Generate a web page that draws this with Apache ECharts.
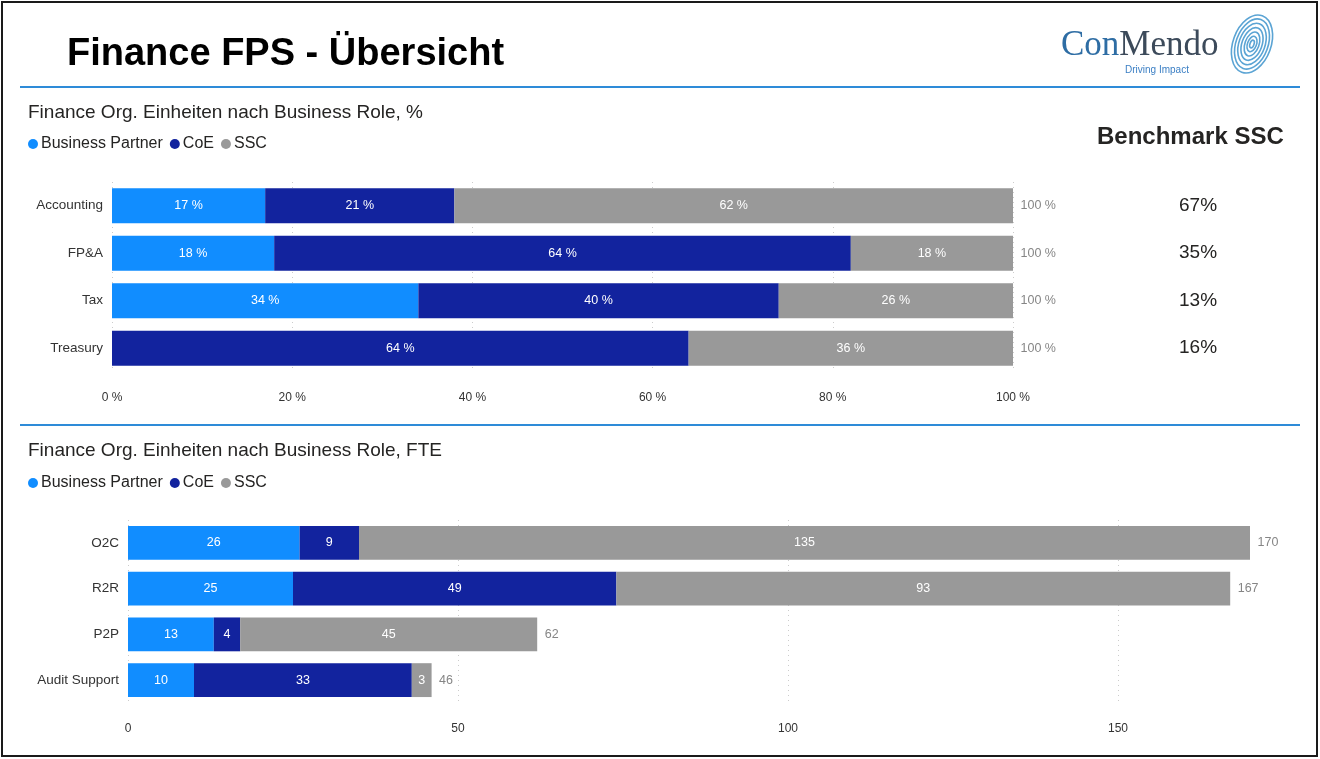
<!DOCTYPE html>
<html>
<head>
<meta charset="utf-8">
<script src="https://cdn.jsdelivr.net/npm/echarts@6/dist/echarts.min.js"></script>
<style>
html,body{margin:0;padding:0;background:#fff;}
#c{width:1320px;height:759px;}
</style>
</head>
<body>
<div id="c"></div>
<script>
// ---- data ----
const topCats = ['Accounting', 'FP&A', 'Tax', 'Treasury'];
const topBP = [17, 18, 34, 0];
const topCoE = [21, 64, 40, 64];
const topSSC = [62, 18, 26, 36];
const topTotal = [100, 100, 100, 100];
const benchmarkSSC = ['67%', '35%', '13%', '16%'];

const botCats = ['O2C', 'R2R', 'P2P', 'Audit Support'];
const botBP = [26, 25, 13, 10];
const botCoE = [9, 49, 4, 33];
const botSSC = [135, 93, 45, 3];
const botTotal = [170, 167, 62, 46];

const seriesNames = ['Business Partner', 'CoE', 'SSC'];
const colors = ['#118DFF', '#12239E', '#999999'];

const FONT = 'Liberation Sans, Arial, sans-serif';

function barSeries(name, data, color, xi, yi, stack, pct) {
  return {
    type: 'bar', name: name, stack: stack, data: data,
    xAxisIndex: xi, yAxisIndex: yi,
    barCategoryGap: '26%',
    itemStyle: { color: color },
    label: {
      show: true, position: 'inside', color: '#fff', fontSize: 12.5, fontFamily: FONT,
      formatter: p => (p.value ? (pct ? p.value + ' %' : String(p.value)) : '')
    },
    emphasis: { disabled: true }
  };
}
function totalSeries(cats, totals, xi, yi, pct) {
  return {
    type: 'scatter', name: 'total', xAxisIndex: xi, yAxisIndex: yi,
    data: totals.map((v, i) => [v, cats[i]]),
    symbolSize: 1, itemStyle: { color: 'rgba(0,0,0,0)' }, silent: true,
    label: {
      show: true, position: 'right', distance: 7, color: '#666', fontSize: 12.5, fontFamily: FONT,
      formatter: p => (pct ? p.value[0] + ' %' : String(p.value[0]))
    }
  };
}

const splitLine = { show: true, lineStyle: { type: [1, 4], color: '#cccccc', width: 1 } };

const chart = echarts.init(document.getElementById('c'), null, { renderer: 'canvas' });
chart.setOption({
  backgroundColor: '#fff',
  animation: false,
  textStyle: { fontFamily: FONT },
  title: [
    { text: 'Finance FPS - Übersicht', left: 67, top: 36, padding: 0,
      textStyle: { fontSize: 38, fontWeight: 'bold', color: '#000', fontFamily: FONT } },
    { text: 'Finance Org. Einheiten nach Business Role, %', left: 28, top: 103, padding: 0,
      textStyle: { fontSize: 19, fontWeight: 'normal', color: '#252423', fontFamily: FONT } },
    { text: 'Finance Org. Einheiten nach Business Role, FTE', left: 28, top: 441, padding: 0,
      textStyle: { fontSize: 19, fontWeight: 'normal', color: '#252423', fontFamily: FONT } },
    { text: 'Benchmark SSC', left: 1097, top: 125, padding: 0,
      textStyle: { fontSize: 24, fontWeight: 'bold', color: '#252423', fontFamily: FONT } },
    { text: '{a|Con}{b|Mendo}', left: 1061, top: 28, padding: 0,
      textStyle: { rich: {
        a: { fontSize: 35, fontWeight: 'normal', color: '#2E6DA4', fontFamily: 'Liberation Serif, serif' },
        b: { fontSize: 35, fontWeight: 'normal', color: '#3C4A5A', fontFamily: 'Liberation Serif, serif' } } } },
    { text: 'Driving Impact', left: 1125, top: 65, padding: 0,
      textStyle: { fontSize: 10, fontWeight: 'normal', color: '#3B7FC4', fontFamily: FONT } }
  ],
  legend: [
    { data: seriesNames, left: 28, top: 136, icon: 'circle', itemWidth: 10, itemHeight: 10,
      itemGap: 7, padding: 0, selectedMode: false,
      textStyle: { fontSize: 16, color: '#252423', fontFamily: FONT, padding: [0, 0, 0, -2] } },
    { data: seriesNames, left: 28, top: 475, icon: 'circle', itemWidth: 10, itemHeight: 10,
      itemGap: 7, padding: 0, selectedMode: false,
      textStyle: { fontSize: 16, color: '#252423', fontFamily: FONT, padding: [0, 0, 0, -2] } }
  ],
  grid: [
    { left: 112, width: 901, top: 182, height: 190 },
    { left: 128, width: 1122, top: 520, height: 183 }
  ],
  xAxis: [
    { type: 'value', gridIndex: 0, min: 0, max: 100, interval: 20,
      axisLine: { show: false }, axisTick: { show: false }, splitLine: splitLine,
      axisLabel: { margin: 20, fontSize: 12, color: '#333', formatter: v => v + ' %' } },
    { type: 'value', gridIndex: 1, min: 0, max: 170, interval: 50,
      axisLine: { show: false }, axisTick: { show: false },
      splitLine: Object.assign({ showMaxLine: false }, splitLine),
      axisLabel: { margin: 20, fontSize: 12, color: '#333', showMaxLabel: false,
        formatter: v => (v % 50 === 0 ? String(v) : '') } }
  ],
  yAxis: [
    { type: 'category', gridIndex: 0, data: topCats, inverse: true,
      axisLine: { show: false }, axisTick: { show: false },
      axisLabel: { margin: 9, fontSize: 13.5, color: '#333' } },
    { type: 'category', gridIndex: 0, data: topCats, inverse: true, position: 'right', offset: 166,
      axisLine: { show: false }, axisTick: { show: false },
      axisLabel: { margin: 0, fontSize: 19, color: '#252423', formatter: (v, i) => benchmarkSSC[i] } },
    { type: 'category', gridIndex: 1, data: botCats, inverse: true,
      axisLine: { show: false }, axisTick: { show: false },
      axisLabel: { margin: 9, fontSize: 13.5, color: '#333' } }
  ],
  series: [
    barSeries(seriesNames[0], topBP, colors[0], 0, 0, 'top', true),
    barSeries(seriesNames[1], topCoE, colors[1], 0, 0, 'top', true),
    barSeries(seriesNames[2], topSSC, colors[2], 0, 0, 'top', true),
    totalSeries(topCats, topTotal, 0, 0, true),
    barSeries(seriesNames[0], botBP, colors[0], 1, 2, 'bot', false),
    barSeries(seriesNames[1], botCoE, colors[1], 1, 2, 'bot', false),
    barSeries(seriesNames[2], botSSC, colors[2], 1, 2, 'bot', false),
    totalSeries(botCats, botTotal, 1, 2, false)
  ],
  graphic: [
    { type: 'rect', shape: { x: 2, y: 2, width: 1315, height: 754 }, silent: true,
      style: { fill: 'none', stroke: '#1a1a1a', lineWidth: 2 } },
    { type: 'line', shape: { x1: 20, y1: 87, x2: 1300, y2: 87 }, silent: true,
      style: { stroke: '#2E8BD8', lineWidth: 2 } },
    { type: 'line', shape: { x1: 20, y1: 425, x2: 1300, y2: 425 }, silent: true,
      style: { stroke: '#2E8BD8', lineWidth: 2 } },
    { type: 'group', x: 1252, y: 44, rotation: -0.35, silent: true, children:
      [[19, 30], [16, 26], [13, 21.5], [10, 17], [7, 12.5], [4.5, 8], [2, 4]].map(r => ({
        type: 'ellipse', shape: { cx: 0, cy: 0, rx: r[0], ry: r[1] },
        style: { fill: 'none', stroke: '#5BA4D4', lineWidth: 1.6 } })) }
  ]
});
</script>
</body>
</html>
